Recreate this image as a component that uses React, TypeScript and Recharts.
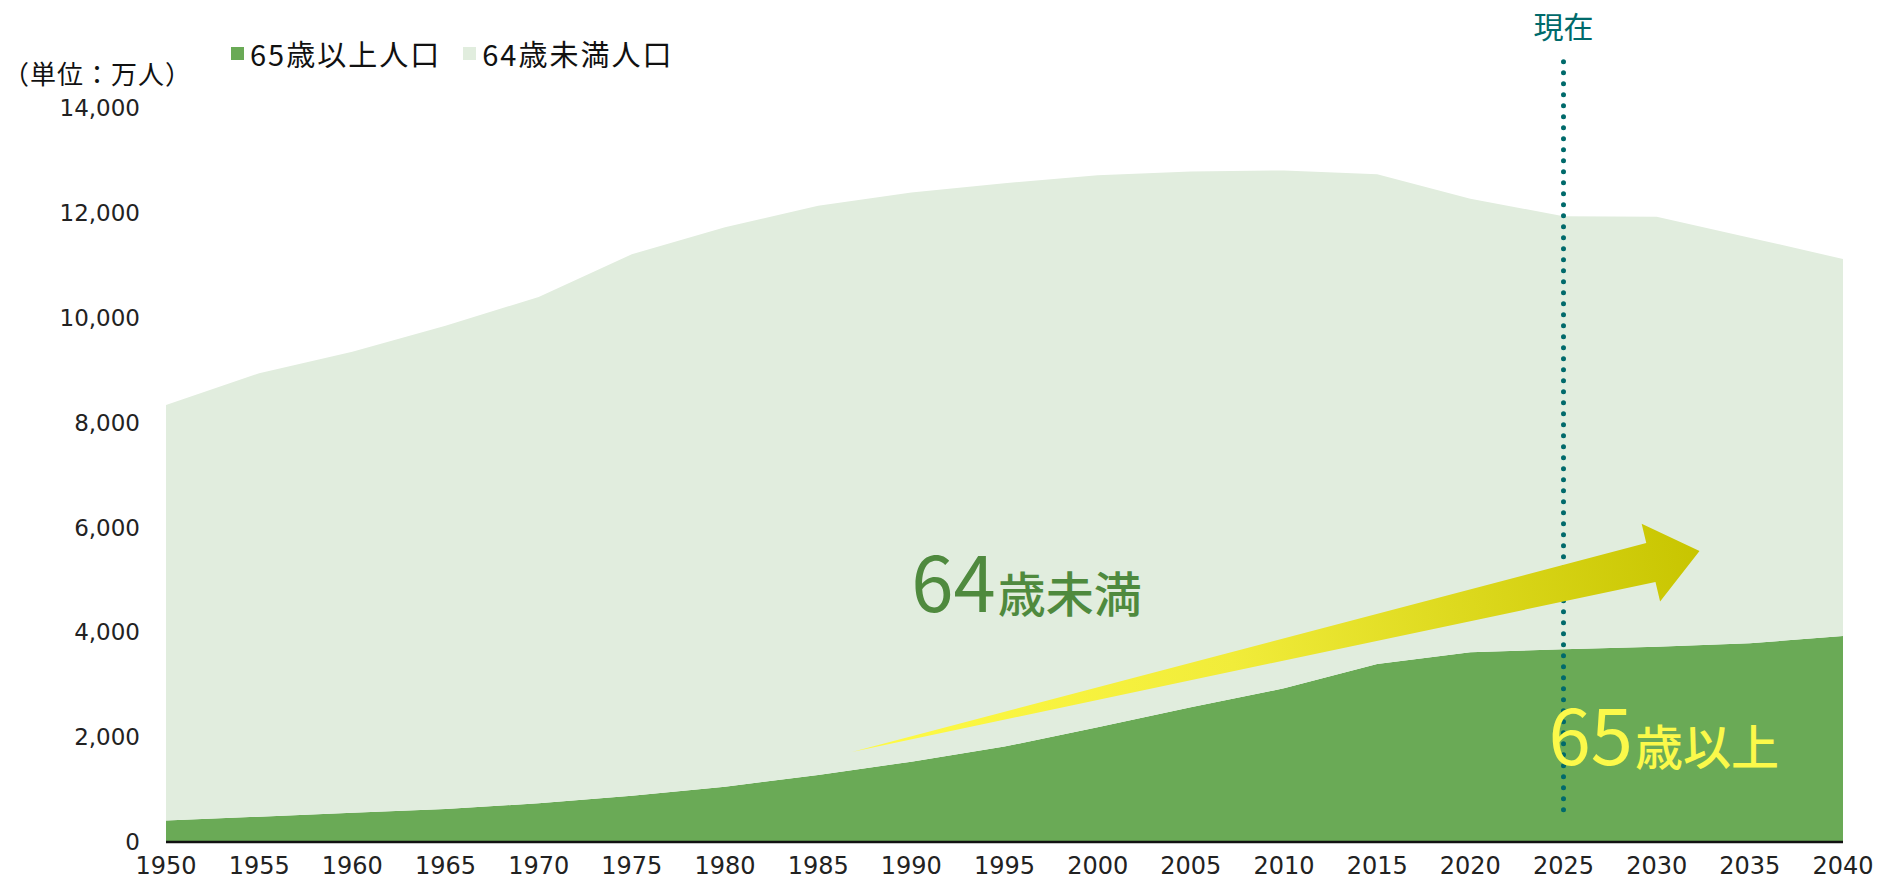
import { AreaChart, Area, XAxis, YAxis, Legend, ReferenceLine, ReferenceDot } from 'recharts';

// 日本の人口推移（万人）— 65歳以上 / 64歳未満, stacked
const years = [1950, 1955, 1960, 1965, 1970, 1975, 1980, 1985, 1990, 1995, 2000, 2005, 2010, 2015, 2020, 2025, 2030, 2035, 2040];
const over65 = [411, 483, 559, 629, 738, 884, 1055, 1278, 1532, 1820, 2187, 2569, 2931, 3395, 3618, 3675, 3726, 3790, 3929];
const under64 = [7923, 8457, 8793, 9219, 9657, 10326, 10670, 10859, 10854, 10744, 10530, 10221, 9878, 9340, 8653, 8259, 8201, 7737, 7191];
const yTicks = [0, 2000, 4000, 6000, 8000, 10000, 12000, 14000];

const seriesNames = { over65: '65歳以上人口', under64: '64歳未満人口' };
const legendOrder = ['over65', 'under64'];
const unitLabel = '（単位：万人）';
const nowYear = 2025;
const nowLabel = '現在';
const under64Note = { num: '64', text: '歳未満', year: 1990, value: 4390 };
const over65Note = { num: '65', text: '歳以上', year: 2024.2, value: 1469 };
// arrow annotation, tail -> tip in data space
const arrowFrom = { year: 1986.8, value: 1717 };
const arrowTo = { year: 2032.3, value: 5550 };

const COLORS = {
  over65: '#6aaa56',
  under64: '#e1edde',
  now: '#006a6b',
  note64: '#4f8a3e',
  note65: '#fbf94a',
};

const data = years.map((year, i) => ({ year, over65: over65[i], under64: under64[i] }));
const xTicks = years;

const tickFont = 'DejaVu Sans, sans-serif';
const jpFont = '"Noto Sans CJK JP", "Noto Sans", sans-serif';

function TrendArrow(props: any) {
  const { x1, y1, x2, y2 } = props;
  const dx = x2 - x1;
  const dy = y2 - y1;
  const len = Math.hypot(dx, dy);
  const ux = dx / len;
  const uy = dy / len;
  const nx = -uy;
  const ny = ux;
  const headLen = 50;
  const headHalf = 40;
  const shaftHalf = 20;
  const bx = x2 - ux * headLen;
  const by = y2 - uy * headLen;
  const pts = [
    [x1, y1],
    [bx - nx * shaftHalf, by - ny * shaftHalf],
    [bx - nx * headHalf, by - ny * headHalf],
    [x2, y2],
    [bx + nx * headHalf, by + ny * headHalf],
    [bx + nx * shaftHalf, by + ny * shaftHalf],
  ];
  return (
    <g>
      <defs>
        <linearGradient id="arrowGrad" gradientUnits="userSpaceOnUse" x1={x1} y1={y1} x2={x2} y2={y2}>
          <stop offset="0%" stopColor="#fffb45" />
          <stop offset="45%" stopColor="#f1ec3a" />
          <stop offset="100%" stopColor="#c8c500" />
        </linearGradient>
      </defs>
      <polygon points={pts.map((p) => p.join(',')).join(' ')} fill="url(#arrowGrad)" />
    </g>
  );
}

function noteShape(note: { num: string; text: string }, color: string) {
  return (props: any) => (
    <text x={props.cx} y={props.cy} fill={color} fontFamily={jpFont} fontWeight={500}>
      <tspan fontSize={76} fontWeight={400}>{note.num}</tspan>
      <tspan fontSize={48} dx={2}>{note.text}</tspan>
    </text>
  );
}

function renderLegend(props: any) {
  const payload = [...(props.payload || [])].sort(
    (a: any, b: any) => legendOrder.indexOf(a.dataKey) - legendOrder.indexOf(b.dataKey),
  );
  return (
    <div style={{ display: 'flex', gap: 22, fontFamily: jpFont, fontSize: 29, lineHeight: '32px', color: '#111' }}>
      {payload.map((p: any) => (
        <div key={p.dataKey} style={{ display: 'flex', alignItems: 'center' }}>
          <span style={{ display: 'inline-block', width: 13, height: 13, background: COLORS[p.dataKey as 'over65' | 'under64'], marginRight: 6 }} />
          <span style={{ letterSpacing: 2 }}>{p.value}</span>
        </div>
      ))}
    </div>
  );
}

export default function App() {
  return (
    <div style={{ position: 'absolute', left: 0, top: 0, width: 1879, height: 879, background: '#fff' }}>
      <AreaChart width={1879} height={879} data={data} margin={{ top: 108, right: 36, bottom: 0, left: 0 }}>
        <XAxis
          dataKey="year"
          type="number"
          domain={[1950, 2040]}
          ticks={xTicks}
          height={37}
          tickLine={false}
          tickSize={0}
          tickMargin={15}
          axisLine={{ stroke: '#111', strokeWidth: 2.5 }}
          tick={{ fontSize: 24, fill: '#222', fontFamily: tickFont }}
        />
        <YAxis
          domain={[0, 14000]}
          ticks={yTicks}
          width={166}
          axisLine={false}
          tickLine={false}
          tickSize={0}
          tickMargin={26}
          tick={{ fontSize: 23, fill: '#222', fontFamily: tickFont }}
          tickFormatter={(v: number) => v.toLocaleString('en-US')}
          label={{
            content: (p: any) => (
              <text
                x={3}
                y={(p.viewBox?.y ?? 108) - 36}
                dominantBaseline="central"
                fontSize={26}
                letterSpacing={1}
                fill="#111"
                fontFamily={jpFont}
              >
                {unitLabel}
              </text>
            ),
          }}
        />
        <Legend
          layout="horizontal"
          verticalAlign="middle"
          align="center"
          wrapperStyle={{ top: 37, left: 231, width: 'auto', height: 'auto' }}
          content={renderLegend}
        />
        <Area
          type="linear"
          dataKey="over65"
          name={seriesNames.over65}
          stackId="pop"
          stroke="none"
          fill={COLORS.over65}
          fillOpacity={1}
          isAnimationActive={false}
        />
        <Area
          type="linear"
          dataKey="under64"
          name={seriesNames.under64}
          stackId="pop"
          stroke="none"
          fill={COLORS.under64}
          fillOpacity={1}
          isAnimationActive={false}
        />
        <ReferenceDot
          x={under64Note.year}
          y={under64Note.value}
          r={0}
          ifOverflow="visible"
          shape={noteShape(under64Note, COLORS.note64)}
        />
        <ReferenceDot
          x={over65Note.year}
          y={over65Note.value}
          r={0}
          ifOverflow="visible"
          shape={noteShape(over65Note, COLORS.note65)}
        />
        <ReferenceLine
          segment={[
            { x: nowYear, y: 14880 },
            { x: nowYear, y: 420 },
          ]}
          ifOverflow="visible"
          stroke={COLORS.now}
          strokeWidth={5}
          strokeDasharray="0 11"
          strokeLinecap="round"
          label={{ value: nowLabel, position: 'top', offset: 24, fill: COLORS.now, fontSize: 30, fontFamily: jpFont }}
        />
        <ReferenceLine
          segment={[
            { x: arrowFrom.year, y: arrowFrom.value },
            { x: arrowTo.year, y: arrowTo.value },
          ]}
          ifOverflow="visible"
          shape={TrendArrow}
        />
      </AreaChart>
    </div>
  );
}
